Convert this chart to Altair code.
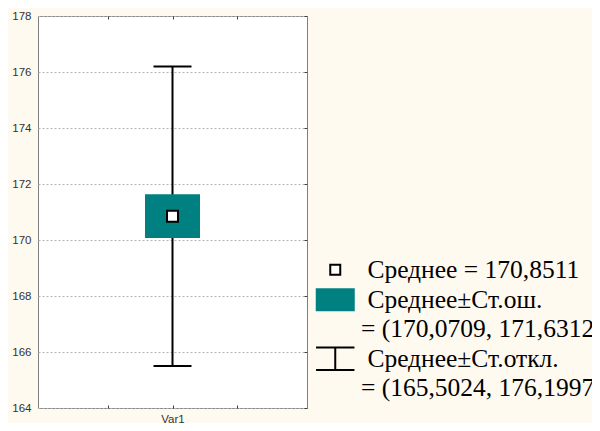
import altair as alt
import pandas as pd

# ---- data ----
variables = ["Var1"]
var_positions = [2]          # category slot on a 0..4 axis
means = [170.8511]
se_low = [170.0709]
se_high = [171.6312]
sd_low = [165.5024]
sd_high = [176.1997]

y_ticks = [164, 166, 168, 170, 172, 174, 176, 178]
x_ticks = [1, 2, 3]

legend_labels = [
    "Среднее = 170,8511",
    "Среднее±Ст.ош.",
    "= (170,0709, 171,6312)",
    "Среднее±Ст.откл.",
    "= (165,5024, 176,1997)",
]

TEAL = "#008080"
AXIS_FONT = "Liberation Sans"
LEG_FONT = "Liberation Serif"

df = pd.DataFrame({
    "var": variables, "pos": var_positions, "mean": means,
    "se_low": se_low, "se_high": se_high,
    "sd_low": sd_low, "sd_high": sd_high,
})
legend_df = pd.DataFrame({"label": legend_labels, "pos": [-1] * len(legend_labels),
                          "val": [170] * len(legend_labels)})

xs = alt.Scale(domain=[0, 4], nice=False, zero=False)
ys = alt.Scale(domain=[164, 178], nice=False, zero=False)

base = alt.Chart(df)

# vertical whisker line (with left/bottom labelled axes)
whisker = base.mark_rule(color="black", strokeWidth=2).encode(
    x=alt.X("pos:Q", scale=xs, title=None,
            axis=alt.Axis(orient="bottom", values=x_ticks,
                          labelExpr="datum.value == 2 ? 'Var1' : ''",
                          tickSize=3, offset=-3, domain=False, grid=False,
                          tickColor="#404040", labelFont=AXIS_FONT,
                          labelFontSize=11.5, labelColor="#333333",
                          labelPadding=5)),
    y=alt.Y("sd_low:Q", scale=ys, title=None,
            axis=alt.Axis(orient="left", values=y_ticks, ticks=False,
                          grid=True, gridDash=[2, 2], gridColor="#b4b4b4",
                          domain=False, labelFont=AXIS_FONT,
                          labelFontSize=11.5, labelColor="#333333",
                          labelPadding=7)),
    y2="sd_high:Q",
)

# whisker caps (carry the inward top/right tick axes)
caps = base.transform_fold(["sd_low", "sd_high"], as_=["which", "val"]).mark_tick(
    orient="horizontal", size=38, thickness=2, color="black", opacity=1
).encode(
    x=alt.X("pos:Q", scale=xs, title=None,
            axis=alt.Axis(orient="top", values=x_ticks, labels=False,
                          tickSize=3, offset=-3, domain=False, grid=False,
                          tickColor="#404040")),
    y=alt.Y("val:Q", scale=ys, title=None,
            axis=alt.Axis(orient="right", values=y_ticks, labels=False,
                          tickSize=3, offset=-3, domain=False, grid=False,
                          tickColor="#404040")),
)

box = base.mark_bar(size=55, color=TEAL, opacity=1).encode(
    x=alt.X("pos:Q", scale=xs, axis=None),
    y=alt.Y("se_low:Q", scale=ys, axis=None),
    y2="se_high:Q",
)

mean_pt = base.mark_square(size=121, fill="white", stroke="black",
                           strokeWidth=2, opacity=1).encode(
    x=alt.X("pos:Q", scale=xs, axis=None),
    y=alt.Y("mean:Q", scale=ys, axis=None),
)

# legend symbols (custom paths in unit coords)
sq_path = "M-0.5,-0.5H0.5V0.5H-0.5Z"
rect_path = "M-1.95,-1.15H1.95V1.15H-1.95Z"
whisk_path = "M-1.92,-1.13H1.92M0,-1.13V1.13M-1.92,1.13H1.92"

leg = alt.Legend(
    title=None, orient="none", legendX=284.5, legendY=241,
    symbolSize=400, symbolStrokeWidth=2, symbolOpacity=1, padding=0,
    labelFont=LEG_FONT, labelFontSize=25.5, labelColor="black",
    labelOffset=13, rowPadding=0, labelLimit=600,
    labelExpr="indexof(datum.label, '=') === 0 ? datum.label : '\u200b\u00a0' + datum.label",
)

legend_layer = alt.Chart(legend_df).mark_point(
    filled=True, clip=True, strokeWidth=2, opacity=1
).encode(
    x=alt.X("pos:Q", scale=xs, axis=None),
    y=alt.Y("val:Q", scale=ys, axis=None),
    shape=alt.Shape("label:N", legend=leg,
                    scale=alt.Scale(domain=legend_labels,
                                    range=[sq_path, rect_path, sq_path, whisk_path, sq_path])),
    fill=alt.Fill("label:N", legend=leg,
                  scale=alt.Scale(domain=legend_labels,
                                  range=["white", TEAL, "transparent", "transparent", "transparent"])),
    stroke=alt.Stroke("label:N", legend=leg,
                      scale=alt.Scale(domain=legend_labels,
                                      range=["black", "transparent", "transparent", "black", "transparent"])),
)

chart = alt.layer(whisker, caps, box, mean_pt, legend_layer).resolve_axis(
    x="independent", y="independent"
).properties(
    width=269, height=392,
    autosize=alt.AutoSizeParams(type="none"),
    padding={"left": 30, "top": 8, "right": 285, "bottom": 15},
).configure(
    background="#fffaf0",
).configure_view(
    fill="white", stroke="#808080", strokeWidth=1,
)

chart.save("out.html", embed_options={"renderer": "svg", "actions": False})
